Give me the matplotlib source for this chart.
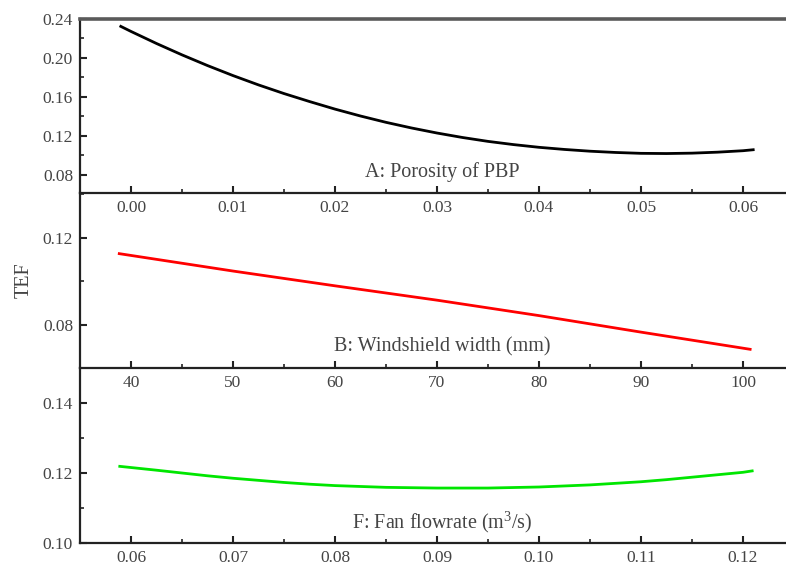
import numpy as np
import matplotlib
matplotlib.use('Agg')
import matplotlib.pyplot as plt
from matplotlib.ticker import MultipleLocator

plt.rcParams['font.family'] = ['Liberation Serif', 'DejaVu Serif']
plt.rcParams['mathtext.fontset'] = 'custom'
plt.rcParams['mathtext.rm'] = 'Liberation Serif'

# A: porosity of PBP
x_a = [-0.001, 0.000, 0.0025, 0.005, 0.0075, 0.010, 0.0125, 0.015, 0.0175,
       0.020, 0.0225, 0.025, 0.0275, 0.030, 0.0325, 0.035, 0.0375, 0.040,
       0.0425, 0.045, 0.0475, 0.050, 0.0525, 0.055, 0.0575, 0.060, 0.061]
y_a = [0.2324, 0.2272, 0.2148, 0.2031, 0.1921, 0.1818, 0.1722, 0.1633, 0.1551,
       0.1473, 0.1402, 0.1337, 0.1279, 0.1227, 0.1181, 0.1141, 0.1108, 0.1080,
       0.1058, 0.1040, 0.1027, 0.1018, 0.1016, 0.1020, 0.1030, 0.1045, 0.1055]

# B: windshield width (mm)
x_b = [38.85, 50, 60, 70, 80, 90, 100.7]
y_b = [0.1126, 0.1046, 0.0978, 0.0912, 0.0841, 0.0765, 0.0686]

# F: fan flowrate (m3/s)
x_f = [0.0589, 0.0625, 0.065, 0.0675, 0.070, 0.0725, 0.075, 0.0775, 0.080,
       0.085, 0.090, 0.095, 0.100, 0.105, 0.110, 0.1125, 0.115, 0.1175,
       0.120, 0.1209]
y_f = [0.1219, 0.1208, 0.1200, 0.1192, 0.1185, 0.1179, 0.1173, 0.1168, 0.1164,
       0.1159, 0.1157, 0.1157, 0.1160, 0.1166, 0.1175, 0.1181, 0.1188, 0.1195,
       0.1202, 0.1206]

labels = ['A: Porosity of PBP', 'B: Windshield width (mm)',
          r'F: Fan flowrate (m$^\mathrm{3}$/s)']

W, H = 786, 568
fig = plt.figure(figsize=(W/100, H/100), dpi=100)

left = 80/W
width = 714/W
# (top px, bottom px) of each layer
rows = [(19, 193), (193, 368), (368, 543)]
axs = []
for top, bot in rows:
    ax = fig.add_axes([left, (H-bot)/H, width, (bot-top)/H])
    ax.patch.set_visible(False)
    axs.append(ax)

txtc = '#444444'
settings = [
    (x_a, y_a, 'black', (-0.005, 0.065), (0.061, 0.24), 0.01, 0.005, 0.04, 0.02,
     '{:.2f}', '{:.2f}'),
    (x_b, y_b, '#ff0000', (35, 105), (0.06, 0.1405), 10, 5, 0.04, 0.02,
     '{:.0f}', '{:.2f}'),
    (x_f, y_f, '#00e600', (0.055, 0.125), (0.10, 0.15), 0.01, 0.005, 0.02, 0.01,
     '{:.2f}', '{:.2f}'),
]

for i, (ax, s) in enumerate(zip(axs, settings)):
    x, y, c, xl, yl, xmaj, xmin, ymaj, ymin, xf, yf = s
    ax.plot(x, y, color=c, lw=2.0)
    ax.set_xlim(xl)
    ax.set_ylim(yl)
    ax.xaxis.set_major_locator(MultipleLocator(xmaj))
    ax.xaxis.set_minor_locator(MultipleLocator(xmin))
    ax.yaxis.set_major_locator(MultipleLocator(ymaj))
    ax.yaxis.set_minor_locator(MultipleLocator(ymin))
    ax.xaxis.set_major_formatter(plt.FuncFormatter(lambda v, p, f=xf: f.format(v)))
    ax.yaxis.set_major_formatter(plt.FuncFormatter(lambda v, p, f=yf: f.format(v)))
    ax.tick_params(which='both', direction='in', colors='#222222',
                   labelcolor=txtc, labelsize=12.5, top=False, right=False)
    ax.tick_params(which='major', length=5, width=1.5, pad=5)
    ax.tick_params(which='minor', length=3, width=1.2)
    for sp in ['left', 'bottom']:
        ax.spines[sp].set_linewidth(1.6)
        ax.spines[sp].set_color('#222222')
    ax.spines['right'].set_visible(False)
    if i == 0:
        ax.spines['top'].set_linewidth(2.6)
        ax.spines['top'].set_color('#5a5a5a')
    else:
        ax.spines['top'].set_visible(False)
    ax.text(0.508, 0.12, labels[i], transform=ax.transAxes, ha='center',
            va='center', fontsize=14.5, color=txtc)

fig.text(24/W, 1 - 280/H, 'TEF', rotation=90, ha='center', va='center',
         fontsize=14.5, color=txtc)

plt.savefig('out.png', dpi=100)
